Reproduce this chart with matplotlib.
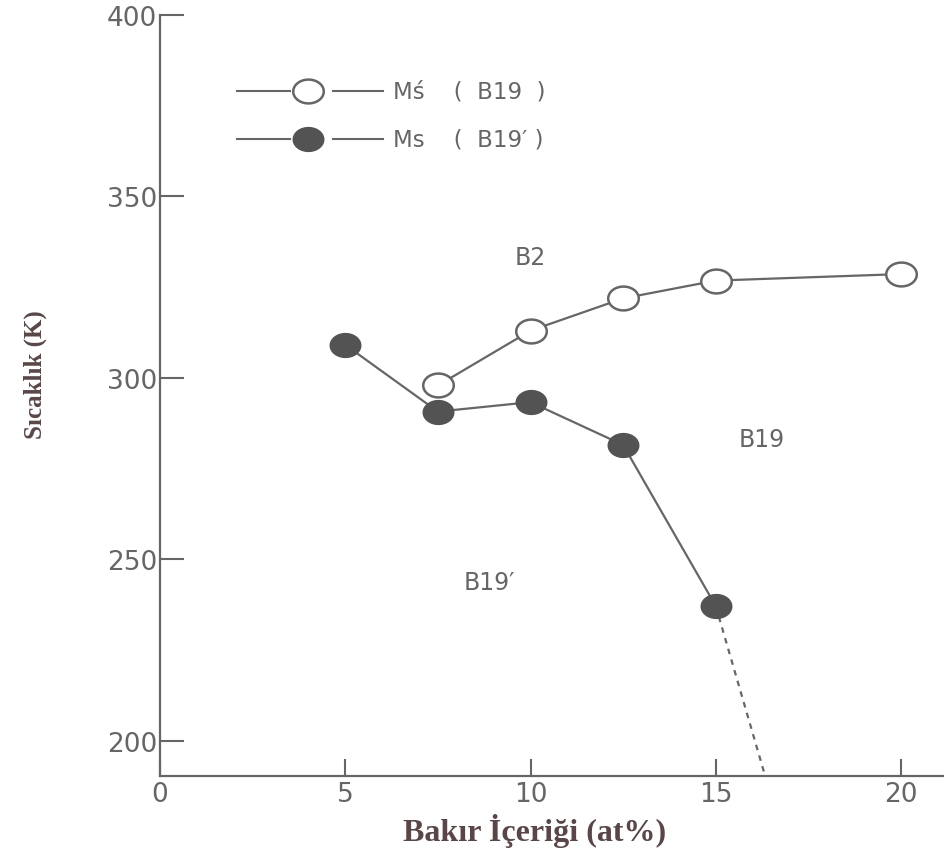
import numpy as np
import matplotlib
matplotlib.use("Agg")
import matplotlib.pyplot as plt
from matplotlib.path import Path

# Data
x_open = [7.5, 10, 12.5, 15, 20]
y_open = [297.9, 313.0, 321.9, 326.8, 328.6]
x_fill = [5, 7.5, 10, 12.5, 15]
y_fill = [309.1, 290.7, 293.3, 281.5, 237.1]
x_dash = [15, 16.33]
y_dash = [237.1, 190.35]
x_ticks = [0, 5, 10, 15, 20]
y_ticks = [200, 250, 300, 350, 400]
regions = [("B2", 9.99, 333.3), ("B19", 16.25, 283.2), ("B19\u2032", 8.9, 243.7)]
legend_labels = ["M\u015b    (  B19  )", "Ms    (  B19\u2032 )"]

ink = "#666666"
fill = "#535353"
lab_col = "#5a4646"

# elliptical marker (figure is vertically squashed)
t = np.linspace(0, 2 * np.pi, 64)
ell = Path(np.column_stack([np.cos(t), 0.78 * np.sin(t)]), closed=True)

fig = plt.figure(figsize=(9.44, 8.53), dpi=100)
ax = fig.add_axes([160 / 944, 1 - 776.7 / 853, 1 - 160 / 944, (776.7 - 16) / 853])
ax.set_xlim(0, 21.16)
ax.set_ylim(190.35, 400)

ax.plot(x_dash, y_dash, ls=(0, (2.5, 2.5)), color=ink, lw=1.6, zorder=1)
ax.plot(x_open, y_open, color=ink, lw=1.6, marker=ell, ms=22,
        mfc="white", mec=ink, mew=1.8, zorder=3)
ax.plot(x_fill, y_fill, color=ink, lw=1.6, marker=ell, ms=22,
        mfc=fill, mec=fill, mew=1.0, zorder=3)

for txt, x, y in regions:
    ax.text(x, y, txt, ha="center", va="center", fontsize=17, color=ink,
            family="DejaVu Sans")

for s in ["top", "right"]:
    ax.spines[s].set_visible(False)
for s in ["left", "bottom"]:
    ax.spines[s].set_color(ink)
    ax.spines[s].set_linewidth(1.6)

ax.set_xticks(x_ticks)
ax.set_yticks(y_ticks)
ax.tick_params(axis="y", direction="in", length=17, width=1.5, color=ink,
               labelcolor=ink, labelsize=19, pad=2)
ax.tick_params(axis="x", direction="in", length=12, width=1.5, color=ink,
               labelcolor=ink, labelsize=19, pad=4)

ax.set_xlabel("Bak\u0131r \u0130\u00e7eri\u011fi (at%)", family="Liberation Serif",
              fontweight="bold", fontsize=23, color=lab_col, va="center")
ax.set_ylabel("S\u0131cakl\u0131k (K)", family="Liberation Serif",
              fontweight="bold", fontsize=18, color=lab_col, va="center")
ax.xaxis.set_label_coords((535 - 160) / 784, (776.7 - 831) / 760.7)
ax.yaxis.set_label_coords((35 - 160) / 784, (776.7 - 375) / 760.7)

# legend drawn by hand in axes coordinates
def ax_xy(px, py):
    return (px - 160) / 784, (776.7 - py) / 760.7

rows_py = [91.7, 140]
for i, (py, lab) in enumerate(zip(rows_py, legend_labels)):
    x0, y0 = ax_xy(237, py)
    x1, _ = ax_xy(290, py)
    x2, _ = ax_xy(333, py)
    x3, _ = ax_xy(383, py)
    xm, _ = ax_xy(308, py)
    xt, _ = ax_xy(393, py)
    ax.plot([x0, x1], [y0, y0], color=ink, lw=1.5, transform=ax.transAxes, clip_on=False)
    ax.plot([x2, x3], [y0, y0], color=ink, lw=1.5, transform=ax.transAxes, clip_on=False)
    if i == 0:
        ax.plot([xm], [y0], ls="none", marker=ell, ms=22, mfc="white", mec=ink, mew=1.8,
                transform=ax.transAxes, clip_on=False)
    else:
        ax.plot([xm], [y0], ls="none", marker=ell, ms=22, mfc=fill, mec=fill,
                transform=ax.transAxes, clip_on=False)
    ax.text(xt, y0, lab, transform=ax.transAxes, ha="left", va="center",
            fontsize=16.5, color=ink, family="DejaVu Sans")

fig.savefig("out.png", dpi=100)
